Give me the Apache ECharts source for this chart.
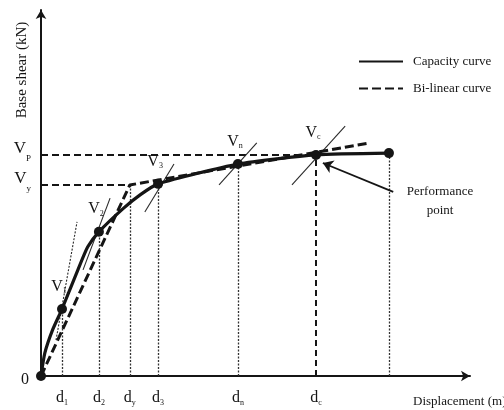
<!DOCTYPE html>
<html>
<head>
<meta charset="utf-8">
<script src="https://cdn.jsdelivr.net/npm/echarts@6/dist/echarts.min.js"></script>
<style>
  html, body { margin: 0; padding: 0; background: #fff; }
  #chart { width: 504px; height: 410px; }
</style>
</head>
<body>
<div id="chart"></div>
<script>
// Pushover capacity curve and its bi-linear idealisation
const curveDisp  = [0, 0.9, 2.7, 4.9, 8.6, 10.9, 13.5, 19.2, 23.1, 27.3, 45.9, 64.1, 81.1];
const curveShear = [0, 6.3, 12.6, 18.3, 29.0, 35.3, 39.4, 45.8, 49.5, 52.5, 57.9, 60.4, 60.9];

// marked points on the capacity curve (origin, V1, V2, V3, Vn, Vc, end)
const pointDisp  = [0, 4.9, 13.5, 27.3, 45.9, 64.1, 81.1];
const pointShear = [0, 18.3, 39.4, 52.5, 57.9, 60.4, 60.9];
const pointSubs  = ['', '1', '2', '3', 'n', 'c', ''];

const bilinearDisp  = [0, 20.7, 76.7];
const bilinearShear = [0, 52.2, 63.7];

const yieldDisp = 20.7, yieldShear = 52.2;
const perfDisp = 64.1, perfShear = 60.4;

// axis tick labels
const xTickValues = [4.9, 13.5, 20.7, 27.3, 45.9, 64.1];
const xTickSubs   = ['1', '2', 'y', '3', 'n', 'c'];
const yTickValues = [0, 52.2, 60.4];
const yTickMain   = ['0', 'V', 'V'];
const yTickSubs   = ['', 'y', 'P'];

// secant/tangent strokes through the curve points
const tangentFrom = [[3.5, 9.8], [9.8, 29.0], [24.2, 44.8], [41.5, 52.2], [58.5, 52.2]];
const tangentTo   = [[8.4, 42.1], [16.1, 48.6], [31.0, 57.9], [50.3, 63.7], [70.9, 68.3]];

// performance point pointer
const arrowTail = [82.1, 50.3];
const arrowHead = [65.7, 58.2];

const FONT = '"Liberation Serif", "DejaVu Serif", serif';
const INK = '#151515';

const zip = (xs, ys) => xs.map((x, i) => [x, ys[i]]);
const findIdx = (arr, v) => arr.findIndex(a => Math.abs(a - v) < 1e-6);

// dotted drops from each marked point to the displacement axis
const dropLines = [];
pointDisp.forEach((d, i) => {
  if (i === 0 || d === perfDisp) return;
  dropLines.push({ coords: [[d, 0], [d, pointShear[i]]] });
});
dropLines.push({ coords: [[yieldDisp, 0], [yieldDisp, yieldShear]] });

const chart = echarts.init(document.getElementById('chart'), null, { renderer: 'canvas' });

chart.setOption({
  animation: false,
  backgroundColor: '#fff',
  textStyle: { fontFamily: FONT, color: INK },
  grid: { left: 41, right: 34, top: 10, bottom: 34 },
  legend: {
    orient: 'vertical',
    left: 353,
    top: 50,
    itemWidth: 44,
    itemHeight: 14,
    itemGap: 14,
    itemStyle: { opacity: 0 },
    textStyle: { fontFamily: FONT, fontSize: 13, color: INK, padding: [0, 0, 0, 5] },
    data: ['Capacity curve', 'Bi-linear curve']
  },
  xAxis: {
    type: 'value', min: 0, max: 100,
    splitLine: { show: false },
    axisTick: { show: false },
    axisLine: { show: true, symbol: ['none', 'arrow'], symbolSize: [8, 9],
                lineStyle: { color: INK, width: 2 } },
    axisLabel: {
      customValues: xTickValues,
      margin: 13,
      formatter: v => {
        const i = findIdx(xTickValues, v);
        return '{d|d}{s|' + xTickSubs[i] + '}';
      },
      rich: {
        d: { fontFamily: FONT, fontSize: 16, color: INK },
        s: { fontFamily: FONT, fontSize: 8, color: INK, padding: [10, 0, 0, 0] }
      }
    }
  },
  yAxis: {
    type: 'value', min: 0, max: 100,
    splitLine: { show: false },
    axisTick: { show: false },
    axisLine: { show: true, symbol: ['none', 'arrow'], symbolSize: [8, 9],
                lineStyle: { color: INK, width: 2 } },
    axisLabel: {
      customValues: yTickValues,
      margin: 10,
      formatter: v => {
        const i = findIdx(yTickValues, v);
        if (yTickSubs[i] === '') return '{z|' + yTickMain[i] + '}';
        return '{v|' + yTickMain[i] + '}{s|' + yTickSubs[i] + '}';
      },
      rich: {
        z: { fontFamily: FONT, fontSize: 16, color: INK, padding: [8, 2, 0, 0] },
        v: { fontFamily: FONT, fontSize: 17, color: INK, padding: [0, 0, 12, 0] },
        s: { fontFamily: FONT, fontSize: 9, color: INK, padding: [8, 0, 0, 0] }
      }
    }
  },
  series: [
    {
      // reference levels V_y and V_P
      type: 'lines', coordinateSystem: 'cartesian2d', silent: true, z: 2,
      lineStyle: { color: INK, width: 1.8, type: [7, 4], opacity: 1 },
      data: [
        { coords: [[0, yieldShear], [yieldDisp, yieldShear]] },
        { coords: [[0, perfShear], [perfDisp, perfShear]] }
      ]
    },
    {
      type: 'lines', coordinateSystem: 'cartesian2d', silent: true, z: 2,
      lineStyle: { color: '#333', width: 1.3, type: [2, 1.5], opacity: 1 },
      data: dropLines
    },
    {
      // drop at the performance point
      type: 'lines', coordinateSystem: 'cartesian2d', silent: true, z: 2,
      lineStyle: { color: INK, width: 2, type: [6, 4], opacity: 1 },
      data: [{ coords: [[perfDisp, 0], [perfDisp, perfShear]] }]
    },
    {
      type: 'lines', coordinateSystem: 'cartesian2d', silent: true, z: 2,
      lineStyle: { color: '#2a2a2a', width: 1.1, opacity: 1 },
      data: tangentFrom.map((p, i) => ({
        coords: [p, tangentTo[i]],
        lineStyle: i === 0 ? { type: [2, 1.5] } : undefined
      }))
    },
    {
      name: 'Bi-linear curve',
      type: 'line', z: 3,
      symbol: 'none',
      lineStyle: { color: INK, width: 3, type: [9, 4] },
      itemStyle: { color: INK },
      data: zip(bilinearDisp, bilinearShear)
    },
    {
      name: 'Capacity curve',
      type: 'line', z: 4,
      symbol: 'none',
      smooth: 0.2,
      lineStyle: { color: INK, width: 3.2 },
      itemStyle: { color: INK },
      data: zip(curveDisp, curveShear)
    },
    {
      type: 'scatter', z: 5, silent: true,
      symbol: 'circle', symbolSize: 10,
      itemStyle: { color: INK, opacity: 1 },
      label: {
        show: true, position: 'top', distance: 9, offset: [-3, 0],
        formatter: p => pointSubs[p.dataIndex] ? '{v|V}{s|' + pointSubs[p.dataIndex] + '}' : '',
        rich: {
          v: { fontFamily: FONT, fontSize: 16, color: INK },
          s: { fontFamily: FONT, fontSize: 8, color: INK, padding: [9, 0, 0, 0] }
        }
      },
      data: zip(pointDisp, pointShear)
    },
    {
      type: 'lines', coordinateSystem: 'cartesian2d', silent: true, z: 5,
      symbol: ['none', 'arrow'], symbolSize: 10,
      lineStyle: { color: INK, width: 1.8, opacity: 1 },
      data: [{ coords: [arrowTail, arrowHead] }]
    }
  ],
  graphic: [
    {
      type: 'text', x: 22, y: 70, rotation: Math.PI / 2,
      style: { text: 'Base shear (kN)', fill: INK, font: '15px ' + FONT,
               textAlign: 'center', textVerticalAlign: 'middle' }
    },
    {
      type: 'text', x: 413, y: 402,
      style: { text: 'Displacement (m)', fill: INK, font: '13px ' + FONT,
               textAlign: 'left', textVerticalAlign: 'middle' }
    },
    {
      type: 'text', x: 440, y: 201,
      style: { text: 'Performance\npoint', fill: INK, font: '13px ' + FONT,
               lineHeight: 19, textAlign: 'center', textVerticalAlign: 'middle' }
    }
  ]
});
</script>
</body>
</html>
